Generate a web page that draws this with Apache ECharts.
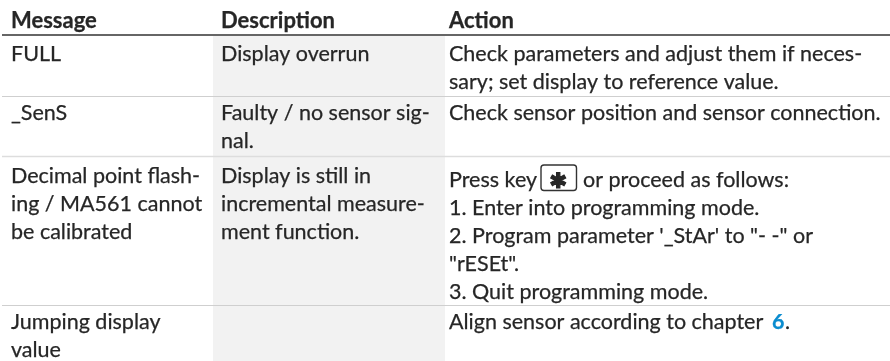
<!DOCTYPE html>
<html>
<head>
    <meta charset="utf-8">
    <style>html,body{margin:0;padding:0;background:#fff}#main{width:890px;height:361px}</style>
</head>
<body>
<div id="main"></div>
<script src="https://cdn.jsdelivr.net/npm/echarts@6/dist/echarts.min.js"></script>
<script>
// table content, one list of lines per cell
var headers = ['Message', 'Description', 'Action'];
var messages = [['FULL'], ['_SenS'], ['Decimal point flash-', 'ing / MA561 cannot', 'be calibrated'], ['Jumping display', 'value']];
var descriptions = [['Display overrun'], ['Faulty / no sensor sig-', 'nal.'], ['Display is still in', 'incremental measure-', 'ment function.'], []];
var actions = [
    ['Check parameters and adjust them if neces-', 'sary; set display to reference value.'],
    ['Check sensor position and sensor connection.'],
    ['Press key', '1. Enter into programming mode.', '2. Program parameter \'_StAr\' to "- -" or', '"rESEt".', '3. Quit programming mode.'],
    ['Align sensor according to chapter']
];
var keyTail = 'or proceed as follows:';
var keySymbol = '\u2731';
var chapterRef = '6';

var fontName = 'Lato';
var fontSize = 21.5;
var colX = [11, 221, 449];
var rowBase = [59, 118, 181, 327];
var actionBase = [59, 118, 185, 327]; // the key box pushes this cell down a bit
var lineStep = 28;
var ink = '#262626';
var elements = [];

function addText(str, x, base, opt) {
    opt = opt || {};
    var size = opt.size || fontSize;
    elements.push({
        type: 'text',
        x: x,
        y: base + size * 0.28,
        style: {
            text: str,
            fill: opt.color || ink,
            // hairline outline, the original face is a bit heavier than Lato regular
            stroke: opt.color || ink,
            lineWidth: opt.stroke === undefined ? 0.25 : opt.stroke,
            font: (opt.weight || 'normal') + ' ' + size + 'px "' + (opt.font || fontName) + '"',
            align: 'left',
            verticalAlign: 'bottom'
        }
    });
}

function addLine(x1, x2, y, color, w) {
    elements.push({ type: 'line', shape: { x1: x1, y1: y, x2: x2, y2: y }, style: { stroke: color, lineWidth: w } });
}

// grey description column
elements.push({ type: 'rect', shape: { x: 213, y: 36, width: 232, height: 325 }, style: { fill: '#f2f2f2' } });

addLine(2, 890, 35, '#333333', 1.5);
addLine(2, 890, 96.5, '#cfcfcf', 1);
addLine(2, 890, 156.5, '#dddddd', 1.5);
addLine(2, 890, 305.5, '#cfcfcf', 1);

headers.forEach(function (h, i) {
    addText(h, colX[i], 26, { weight: 'bold', size: 22 });
});

[messages, descriptions, actions].forEach(function (col, c) {
    var bases = c === 2 ? actionBase : rowBase;
    col.forEach(function (lines, r) {
        lines.forEach(function (t, l) {
            addText(t, colX[c], bases[r] + l * lineStep);
        });
    });
});

// key symbol box in the third row
elements.push({ type: 'rect', shape: { x: 541, y: 165, width: 35.5, height: 25.5, r: 3 }, style: { fill: '#fff', stroke: '#333333', lineWidth: 1.4 } });
addText(keySymbol, 549.5, 187, { weight: 'bold', size: 21, font: 'DejaVu Sans', stroke: 1.2 });
addText(keyTail, 583, actionBase[2]);
addText(chapterRef, 772, actionBase[3], { color: '#0a8ccf', weight: 'bold' });
addText('.', 785, actionBase[3]);

var chart = echarts.init(document.getElementById('main'), null, { renderer: 'canvas' });
chart.setOption({
    animation: false,
    backgroundColor: '#ffffff',
    graphic: { elements: elements }
});
</script>
</body>
</html>
